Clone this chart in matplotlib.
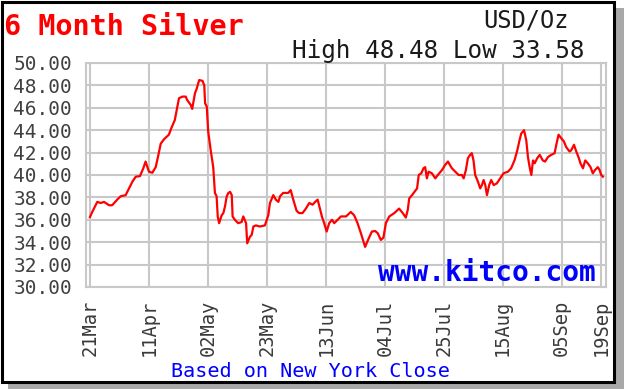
import matplotlib
matplotlib.use("Agg")
import matplotlib.pyplot as plt
from matplotlib.patches import Rectangle

# days since 21 Mar, silver close (USD/oz)
days = [0, 0.8, 2.6, 3.8, 5.0, 6.8, 7.9, 9.7, 10.9, 12.7, 13.9, 15.1, 16.3, 17.8,
        19.0, 19.8, 21.0, 22.2, 23.4, 24.2, 25.2, 26.4, 28.1, 29.0, 30.2, 31.1,
        31.7, 32.9, 34.1, 34.6, 35.9, 36.4, 37.4, 38.0, 38.9, 40.1, 40.7, 41.0,
        41.6, 42.1, 43.0, 43.9, 44.5, 45.1, 45.5, 46.0, 46.9, 47.5, 48.1, 48.7,
        49.3, 49.9, 50.5, 50.8, 51.6, 52.8, 54.0, 54.6, 55.6, 56.0, 57.0, 57.6,
        58.2, 59.1, 60.5, 62.3, 63.5, 64.1, 65.3, 66.2, 67.1, 67.7, 68.8, 70.6,
        71.5, 72.4, 73.6, 74.5, 75.7, 76.9, 78.1, 79.3, 80.2, 81.1, 81.7, 82.6,
        83.4, 84.3, 85.2, 86.2, 87.0, 88.2, 89.4, 91.2, 92.9, 94.1, 95.3, 96.5,
        98.0, 99.3, 100.4, 101.6, 102.5, 103.6, 104.5, 105.4, 106.6, 108.4,
        110.1, 111.4, 112.5, 113.2, 113.7, 114.7, 115.6, 116.5, 117.1, 118.0,
        118.8, 119.4, 120.0, 120.6, 121.8, 123.0, 123.9, 125.4, 126.5, 127.5,
        128.9, 130.1, 131.3, 132.5, 133.1, 133.9, 134.6, 135.4, 136.0, 136.6,
        137.2, 138.2, 139.0, 139.6, 140.2, 140.8, 141.4, 142.2, 142.9, 143.8,
        144.9, 146.1, 147.3, 148.9, 150.0, 151.2, 152.2, 153.0, 153.6, 154.6,
        155.4, 156.0, 156.6, 157.2, 157.8, 158.4, 159.3, 160.2, 161.3, 162.1,
        163.1, 164.3, 165.5, 166.1, 166.9, 167.8, 168.8, 169.6, 170.8, 171.4,
        172.4, 173.2, 174.0, 174.7, 175.6, 176.4, 177.3, 178.3, 179.1, 179.9,
        180.9, 181.5, 182.1, 182.7]
price = [36.25, 36.7, 37.6, 37.5, 37.6, 37.3, 37.3, 37.8, 38.1, 38.2, 38.8, 39.4,
         39.85, 39.9, 40.6, 41.2, 40.3, 40.2, 40.7, 41.6, 42.8, 43.2, 43.6, 44.2,
         44.9, 46.1, 46.85, 47.0, 47.0, 46.7, 46.25, 45.9, 47.3, 47.7, 48.48, 48.4,
         48.0, 46.4, 46.1, 43.9, 42.2, 40.7, 38.4, 38.1, 36.3, 35.7, 36.4, 36.6,
         37.2, 38.1, 38.4, 38.5, 38.2, 36.3, 36.0, 35.7, 35.8, 36.3, 35.7, 33.9,
         34.5, 34.65, 35.4, 35.5, 35.4, 35.5, 36.4, 37.5, 38.2, 37.8, 37.6, 38.1,
         38.4, 38.4, 38.65, 37.8, 36.8, 36.6, 36.6, 37.0, 37.5, 37.35, 37.6, 37.8,
         37.2, 36.3, 35.7, 34.95, 35.7, 36.0, 35.7, 36.0, 36.3, 36.3, 36.7, 36.4,
         35.7, 34.8, 33.58, 34.35, 34.95, 35.0, 34.8, 34.2, 34.4, 35.7, 36.3, 36.6,
         37.0, 36.6, 36.2, 36.9, 37.9, 38.2, 38.5, 38.8, 40.0, 40.15, 40.6, 40.7,
         39.7, 40.3, 40.15, 39.7, 40.0, 40.45, 40.9, 41.2, 40.6, 40.3, 40.0, 40.0,
         39.7, 40.45, 41.5, 41.8, 41.95, 41.3, 40.0, 39.4, 38.8, 39.1, 39.55, 39.1,
         38.2, 39.1, 39.55, 39.1, 39.25, 39.7, 40.15, 40.3, 40.6, 41.3, 42.2, 43.1,
         43.7, 44.0, 43.1, 41.6, 40.7, 40.0, 41.3, 41.05, 41.5, 41.8, 41.3, 41.2,
         41.6, 41.8, 41.95, 42.7, 43.6, 43.3, 43.0, 42.5, 42.1, 42.2, 42.7, 42.1,
         41.6, 41.05, 40.6, 41.3, 41.05, 40.7, 40.15, 40.45, 40.7, 40.45, 40.0,
         39.85]

tick_days = [0, 21, 42, 63, 84, 105, 126, 147, 168, 182]
tick_labels = ["21Mar", "11Apr", "02May", "23May", "13Jun", "04Jul",
               "25Jul", "15Aug", "05Sep", "19Sep"]
y_ticks = [30, 32, 34, 36, 38, 40, 42, 44, 46, 48, 50]

W, H = 624, 389
mono = "DejaVu Sans Mono"

fig = plt.figure(figsize=(W / 100, H / 100), dpi=100)
fig.patch.set_facecolor("white")

# drop shadow + black frame
fig.patches.append(Rectangle((8 / W, 0), (W - 8) / W, (H - 8) / H,
                             transform=fig.transFigure, facecolor="#a8a8a8",
                             edgecolor="none", zorder=-3))
fig.patches.append(Rectangle((1.5 / W, (H - 382) / H), 612.5 / W, 380.5 / H,
                             transform=fig.transFigure, facecolor="white",
                             edgecolor="black", linewidth=2.2, zorder=-2))

ax = fig.add_axes([86 / W, (H - 287) / H, 520 / W, 224 / H])
ax.set_zorder(1)
ax.set_facecolor("white")
ax.plot(days, price, color="#ff0000", linewidth=1.6, zorder=3)

ax.set_xlim(-1.42, 183.8)
ax.set_ylim(30, 50)
ax.set_xticks(tick_days)
ax.set_xticklabels(tick_labels, rotation=90, fontfamily=mono, fontsize=13.5,
                   color="#3a3a3a")
ax.set_yticks(y_ticks)
ax.set_yticklabels(["%.2f" % v for v in y_ticks], fontfamily=mono,
                   fontsize=14, color="#404040")
ax.tick_params(length=0)
ax.tick_params(axis="y", pad=10)
ax.tick_params(axis="x", pad=9)
ax.grid(True, color="#c8c8c8", linewidth=1.5)
ax.set_axisbelow(True)
for s in ax.spines.values():
    s.set_color("#c8c8c8")
    s.set_linewidth(1.5)

ax.text(596 / W, (H - 281) / H, "www.kitco.com", transform=fig.transFigure,
        ha="right", va="baseline", fontfamily=mono, fontweight="bold",
        fontsize=20, color="#0000ff", zorder=4)

fig.text(4 / W, 1 - 35 / H, "6 Month Silver", ha="left", va="baseline",
         fontfamily=mono, fontweight="bold", fontsize=20.5, color="#ff0000")
fig.text(569 / W, 1 - 28 / H, "USD/Oz", ha="right", va="baseline",
         fontfamily=mono, fontsize=17, color="#1a1a1a")
fig.text(584 / W, 1 - 58 / H, "High 48.48 Low 33.58", ha="right",
         va="baseline", fontfamily=mono, fontsize=17.5, color="#1a1a1a")
fig.text(310 / W, 1 - 377 / H, "Based on New York Close", ha="center",
         va="baseline", fontfamily=mono, fontsize=14.5, color="#0000ff")

fig.savefig("out.png", dpi=100)
